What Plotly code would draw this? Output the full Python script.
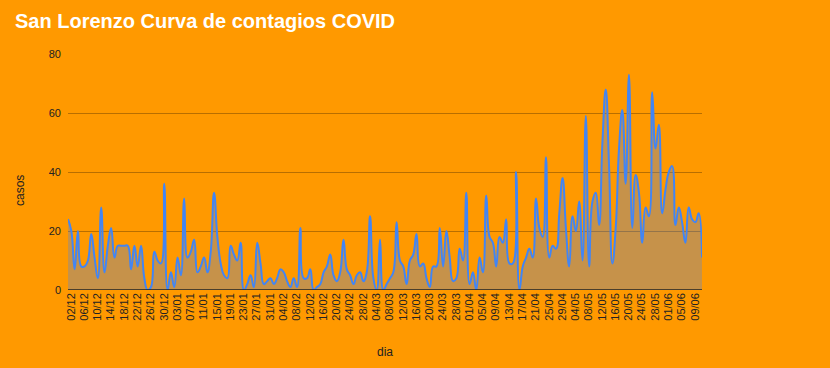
import pandas as pd
import plotly.graph_objects as go

# Daily dates (one day missing in early May)
all_days = pd.date_range("2020-12-02", "2021-06-12", freq="D")
dates = [d.strftime("%d/%m") for d in all_days if d != pd.Timestamp("2021-05-01")]

casos = [
    24, 20, 7, 20, 8, 8, 10, 19, 11, 4,
    28, 6, 15, 21, 11, 15, 15, 15, 15, 7,
    15, 8, 15, 4, 0, 1, 13, 10, 9, 36,
    0, 6, 1, 11, 5, 31, 11, 13, 17, 6,
    8, 11, 6, 13, 33, 18, 9, 5, 4, 15,
    12, 10, 16, 0, 2, 5, 1, 16, 9, 2,
    3, 4, 2, 4, 7, 6, 3, 1, 4, 1,
    21, 4, 4, 7, 0, 1, 2, 6, 8, 12,
    5, 3, 6, 17, 7, 5, 2, 5, 6, 3,
    6, 25, 4, 0, 17, 0, 2, 4, 6, 23,
    10, 8, 2, 10, 12, 19, 8, 9, 4, 1,
    8, 8, 21, 8, 20, 11, 3, 4, 14, 10,
    33, 2, 6, 0, 11, 6, 32, 18, 16, 8,
    18, 16, 24, 9, 9, 40, 0, 8, 11, 14,
    11, 31, 21, 18, 45, 11, 15, 14, 26, 38,
    21, 8, 25, 20, 30, 10, 59, 8, 30, 33,
    22, 50, 68, 42, 9, 21, 48, 61, 36, 73,
    21, 39, 33, 16, 28, 25, 67, 48, 56, 26,
    34, 40, 42, 22, 28, 23, 16, 28, 24, 23,
    26, 11,
]

tick_labels = dates[::4]
y_ticks = [0, 20, 40, 60, 80]

title_text = "San Lorenzo Curva de contagios COVID"
x_title = "dia"
y_title = "casos"

ORANGE = "#FF9900"
BLUE = "#4285F4"
FONT = "Arial, Liberation Sans, sans-serif"

fig = go.Figure()
fig.add_trace(go.Scatter(
    x=dates, y=casos, mode="lines",
    line=dict(color=BLUE, width=2, shape="spline", smoothing=1.3),
    fill="tozeroy", fillcolor="rgba(66,133,244,0.3)",
    hoverinfo="skip", showlegend=False,
))

fig.update_layout(
    width=830, height=368,
    paper_bgcolor=ORANGE, plot_bgcolor=ORANGE,
    margin=dict(l=68, r=128, t=54, b=78),
    font=dict(family=FONT, size=11, color="#222222"),
    title=dict(text="<b>" + title_text + "</b>", x=15 / 830, xanchor="left",
               y=1 - 21 / 368, yanchor="middle",
               font=dict(family=FONT, size=20, color="white")),
    xaxis=dict(
        type="category", range=[0, len(dates) - 1],
        tickmode="array", tickvals=tick_labels, ticktext=tick_labels,
        tickangle=-90, showgrid=False, zeroline=False, ticks="",
        showline=False, tickfont=dict(size=11, color="#222222"),
        ticklabelshift=3,
    ),
    yaxis=dict(
        range=[0, 80], tickmode="array", tickvals=y_ticks,
        showgrid=True, gridcolor="#B86E00", gridwidth=1,
        zeroline=False, showline=False, ticks="",
        tickfont=dict(size=11, color="#222222"),
        ticklabelstandoff=6,
    ),
    shapes=[dict(type="line", xref="paper", yref="y", x0=0, x1=1, y0=0, y1=0,
                 line=dict(color="#222222", width=1.5))],
    annotations=[
        dict(text=x_title, xref="paper", yref="paper", x=0.5, y=-62 / 236,
             xanchor="center", yanchor="middle", showarrow=False,
             font=dict(size=12, color="#222222")),
        dict(text=y_title, xref="paper", yref="paper", x=-48 / 634, y=(290 - 191) / 236,
             xanchor="center", yanchor="middle", showarrow=False, textangle=-90,
             font=dict(size=12, color="#222222")),
    ],
)

fig.write_html(
    "out.html",
    config={"displayModeBar": False, "staticPlot": True},
    post_script="document.body.style.margin='0';document.body.style.padding='0';"
                "document.body.style.background='#FF9900';document.body.style.overflow='hidden';",
)
